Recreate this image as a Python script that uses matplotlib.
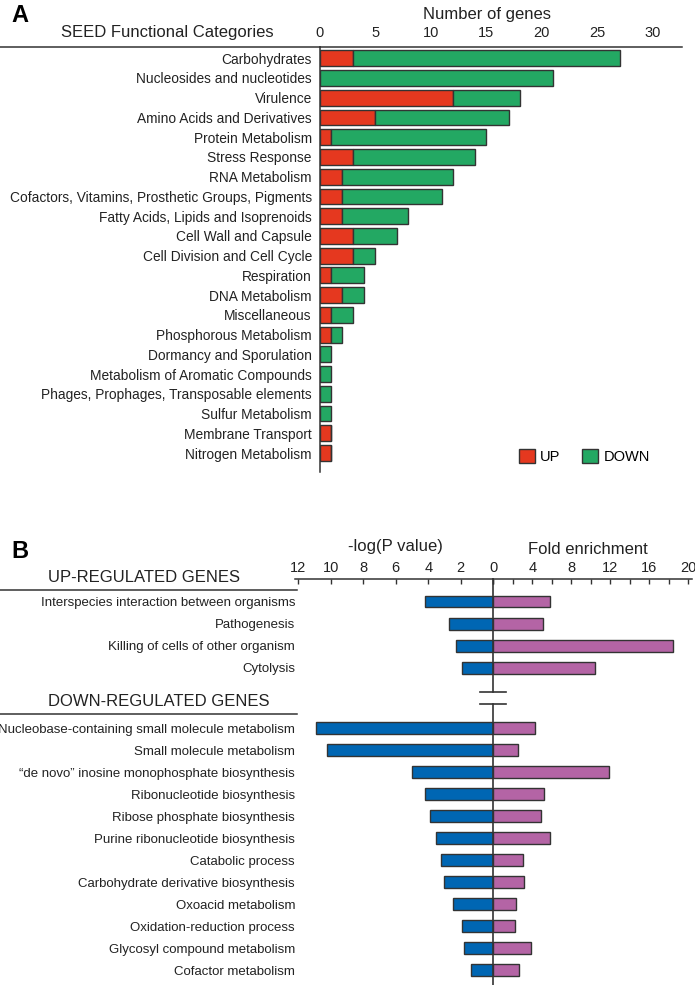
import matplotlib
matplotlib.use("Agg")
import matplotlib.pyplot as plt
from matplotlib.lines import Line2D
from matplotlib.patches import Patch
import numpy as np

plt.rcParams["font.family"] = ["Liberation Sans", "DejaVu Sans"]

# ── Panel A data: SEED functional categories ──────────────────────────
seed_categories = [
    "Carbohydrates", "Nucleosides and nucleotides", "Virulence",
    "Amino Acids and Derivatives", "Protein Metabolism", "Stress Response",
    "RNA Metabolism", "Cofactors, Vitamins, Prosthetic Groups, Pigments",
    "Fatty Acids, Lipids and Isoprenoids", "Cell Wall and Capsule",
    "Cell Division and Cell Cycle", "Respiration", "DNA Metabolism",
    "Miscellaneous", "Phosphorous Metabolism", "Dormancy and Sporulation",
    "Metabolism of Aromatic Compounds",
    "Phages, Prophages, Transposable elements", "Sulfur Metabolism",
    "Membrane Transport", "Nitrogen Metabolism",
]
seed_up = [3, 0, 12, 5, 1, 3, 2, 2, 2, 3, 3, 1, 2, 1, 1, 0, 0, 0, 0, 1, 1]
seed_down = [24, 21, 6, 12, 14, 11, 10, 9, 6, 4, 2, 3, 2, 2, 1, 1, 1, 1, 1, 0, 0]
seed_ticks = [0, 5, 10, 15, 20, 25, 30]

# ── Panel B data: GO enrichment ───────────────────────────────────────
up_terms = [
    "Interspecies interaction between organisms", "Pathogenesis",
    "Killing of cells of other organism", "Cytolysis",
]
up_logp = [4.2, 2.7, 2.3, 1.9]
up_fold = [5.8, 5.1, 18.4, 10.4]

down_terms = [
    "Nucleobase-containing small molecule metabolism",
    "Small molecule metabolism",
    "\u201cde novo\u201d inosine monophosphate biosynthesis",
    "Ribonucleotide biosynthesis", "Ribose phosphate biosynthesis",
    "Purine ribonucleotide biosynthesis", "Catabolic process",
    "Carbohydrate derivative biosynthesis", "Oxoacid metabolism",
    "Oxidation-reduction process", "Glycosyl compound metabolism",
    "Cofactor metabolism",
]
down_logp = [10.9, 10.25, 5.0, 4.2, 3.9, 3.5, 3.2, 3.05, 2.45, 1.95, 1.8, 1.4]
down_fold = [4.3, 2.5, 11.9, 5.2, 4.9, 5.8, 3.0, 3.1, 2.3, 2.2, 3.9, 2.6]

logp_ticks = [12, 10, 8, 6, 4, 2, 0]
fold_ticks = [4, 8, 12, 16, 20]

RED = "#E5381F"
GREEN = "#23A863"
BLUE = "#0066B3"
PURPLE = "#B464A5"
EDGE = "#333333"

W, H = 695, 985
fig = plt.figure(figsize=(W / 100, H / 100), dpi=100)


def fx(px):
    return px / W


def fy(py):
    return 1 - py / H


# ── Panel A ───────────────────────────────────────────────────────────
axA = fig.add_axes([fx(319.5), fy(472), fx(682 - 319.5), (472 - 47) / H])
y = np.arange(len(seed_categories))
axA.barh(y, seed_up, height=0.8, color=RED, edgecolor=EDGE, linewidth=1)
axA.barh(y, seed_down, left=seed_up, height=0.8, color=GREEN,
         edgecolor=EDGE, linewidth=1)
axA.set_xlim(0, 32.6)
axA.set_ylim(20.96, -0.57)
axA.set_yticks(y)
axA.set_yticklabels(seed_categories, fontsize=9.9, color="#222")
axA.set_xticks(seed_ticks)
axA.xaxis.tick_top()
axA.tick_params(axis="x", length=0, pad=5, labelsize=10.5, labelcolor="#222")
axA.tick_params(axis="y", length=0, pad=5.5)
for s in ["right", "bottom"]:
    axA.spines[s].set_visible(False)
for s in ["top", "left"]:
    axA.spines[s].set_color(EDGE)
    axA.spines[s].set_linewidth(1.1)

fig.add_artist(Line2D([0, fx(320)], [fy(47), fy(47)], color=EDGE, lw=1.1))
fig.text(fx(167), fy(33), "SEED Functional Categories", fontsize=12,
         ha="center", va="center", color="#222")
fig.text(fx(487), fy(14), "Number of genes", fontsize=12,
         ha="center", va="center", color="#222")
fig.text(fx(11), fy(15), "A", fontsize=17, fontweight="bold",
         ha="left", va="center")

fig.legend(handles=[Patch(facecolor=RED, edgecolor=EDGE, label="UP"),
                    Patch(facecolor=GREEN, edgecolor=EDGE, label="DOWN")],
           loc="center left", bbox_to_anchor=(fx(519), fy(456.5)), ncol=2,
           frameon=False, fontsize=10.5, handlelength=1.1, handleheight=1.1,
           handletextpad=0.35, columnspacing=1.5, borderpad=0,
           borderaxespad=0)

# ── Panel B ───────────────────────────────────────────────────────────
GROUP_GAP = 2.75
up_y = np.arange(len(up_terms))
down_y = up_y[-1] + GROUP_GAP + np.arange(len(down_terms))
ylim_b = (17.42, -1.03)
brk_mid = (up_y[-1] + down_y[0]) / 2
brk = (brk_mid - 0.28, brk_mid + 0.28)

center = 493.3
left_px = 16.25   # px per -log(P) unit
right_px = 9.75   # px per fold unit
lmax, rmax = 12.2, 20.35

axL = fig.add_axes([fx(center - lmax * left_px), 0.0,
                    fx(lmax * left_px), (985 - 579) / H])
axR = fig.add_axes([fx(center), 0.0, fx(rmax * right_px), (985 - 579) / H])

for ax in (axL, axR):
    ax.set_ylim(*ylim_b)
    ax.xaxis.tick_top()
    ax.patch.set_alpha(0)
    for s in ["right", "bottom", "left"]:
        ax.spines[s].set_visible(False)
    ax.spines["top"].set_color(EDGE)
    ax.spines["top"].set_linewidth(1.1)
    ax.tick_params(axis="x", which="both", direction="in", length=3.5,
                   width=1, color=EDGE, pad=3, labelsize=10.5,
                   labelcolor="#222")

axL.barh(up_y, up_logp, height=0.53, color=BLUE, edgecolor=EDGE, lw=1)
axL.barh(down_y, down_logp, height=0.53, color=BLUE, edgecolor=EDGE, lw=1)
axL.set_xlim(lmax, 0)
axL.set_xticks(logp_ticks)
axL.set_yticks(np.concatenate([up_y, down_y]))
axL.set_yticklabels(up_terms + down_terms, fontsize=9.5, color="#222")
axL.tick_params(axis="y", length=0, pad=0)

axR.barh(up_y, up_fold, height=0.53, color=PURPLE, edgecolor=EDGE, lw=1)
axR.barh(down_y, down_fold, height=0.53, color=PURPLE, edgecolor=EDGE, lw=1)
axR.set_xlim(0, rmax)
axR.set_xticks(fold_ticks)
axR.set_xticks([0, 2, 6, 10, 14, 18], minor=True)
axR.set_yticks([])

# centre line with axis break
axR.plot([0, 0], [ylim_b[1], brk[0]], color=EDGE, lw=1.2, clip_on=False)
axR.plot([0, 0], [brk[1], ylim_b[0]], color=EDGE, lw=1.2, clip_on=False)
for yb in brk:
    axR.plot([-1.35, 1.3], [yb, yb], color=EDGE, lw=1.2, clip_on=False)

fig.text(fx(395), fy(547), "-log(P value)", fontsize=12,
         ha="center", va="center", color="#222")
fig.text(fx(588), fy(549), "Fold enrichment", fontsize=12,
         ha="center", va="center", color="#222")
fig.text(fx(48), fy(577), "UP-REGULATED GENES", fontsize=12,
         ha="left", va="center", color="#222")
fig.text(fx(48), fy(702), "DOWN-REGULATED GENES", fontsize=12,
         ha="left", va="center", color="#222")
fig.add_artist(Line2D([0, fx(297)], [fy(590), fy(590)], color=EDGE, lw=1.1))
fig.add_artist(Line2D([0, fx(297)], [fy(714), fy(714)], color=EDGE, lw=1.1))
fig.text(fx(11), fy(552), "B", fontsize=17, fontweight="bold",
         ha="left", va="center")

fig.savefig("out.png", dpi=100)
plt.close(fig)
